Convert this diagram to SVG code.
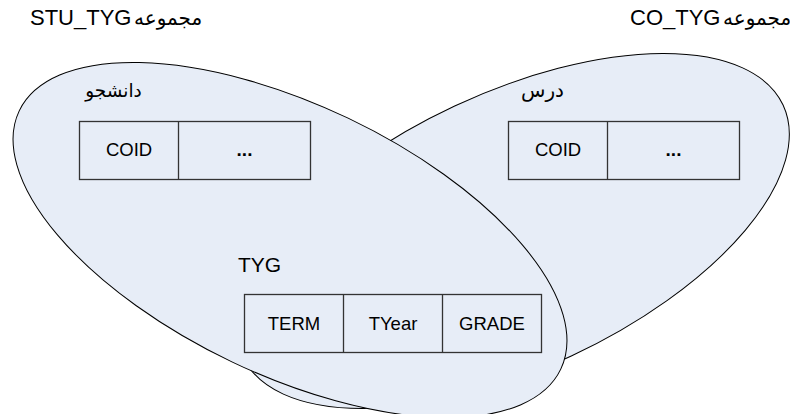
<svg xmlns="http://www.w3.org/2000/svg" width="790" height="414" viewBox="0 0 790 414">
<style>
.set{fill:#E7EDF7;stroke:#000;stroke-width:1}
.cell{fill:none;stroke:#333;stroke-width:1.3}
.t{font-family:"Liberation Sans",Arial,"DejaVu Sans",sans-serif;fill:#000}
.f{font-size:18.5px;text-anchor:middle}
.dots{font-size:19px;font-weight:bold;text-anchor:middle}
.ar{font-family:"DejaVu Sans","Noto Sans",sans-serif;text-anchor:middle}
.big{font-size:22px}
.art{font-family:"DejaVu Sans","Noto Sans",sans-serif;font-size:20px}
</style>
<rect width="790" height="414" fill="#fff"/>
<g id="set-co">
<ellipse class="set" cx="513" cy="231" rx="298" ry="138" transform="rotate(-25 513 231)"/>
</g>
<g id="set-stu">
<ellipse class="set" cx="290" cy="240" rx="300" ry="135" transform="rotate(25.5 290 240)"/>
</g>
<g id="label-stu">
<text class="t big" y="25"><tspan x="30">STU_TYG</tspan><tspan class="art" x="134">مجموعه</tspan></text>
</g>
<g id="label-co">
<text class="t big" y="25"><tspan x="630">CO_TYG</tspan><tspan class="art" x="723">مجموعه</tspan></text>
</g>
<g id="entity-student">
<text class="t ar" x="113.5" y="97" font-size="18.5">دانشجو</text>
<rect class="cell" x="79.5" y="121.5" width="231" height="58"/>
<line class="cell" x1="178.5" y1="121.5" x2="178.5" y2="179.5"/>
<text class="t f" x="129" y="156">COID</text>
<text class="t dots" x="244.5" y="156">...</text>
</g>
<g id="entity-course">
<text class="t ar" x="542.5" y="97" font-size="20">درس</text>
<rect class="cell" x="508.5" y="121.5" width="231" height="58"/>
<line class="cell" x1="607.5" y1="121.5" x2="607.5" y2="179.5"/>
<text class="t f" x="558" y="156">COID</text>
<text class="t dots" x="673.5" y="156">...</text>
</g>
<g id="relation-tyg">
<text class="t" x="238" y="272" font-size="21">TYG</text>
<rect class="cell" x="244.5" y="294.5" width="297" height="58"/>
<line class="cell" x1="343.5" y1="294.5" x2="343.5" y2="352.5"/>
<line class="cell" x1="442.5" y1="294.5" x2="442.5" y2="352.5"/>
<text class="t f" x="294" y="329.5">TERM</text>
<text class="t f" x="393" y="329.5">TYear</text>
<text class="t f" x="492" y="329.5">GRADE</text>
</g>
<g id="connectors"/>
</svg>
